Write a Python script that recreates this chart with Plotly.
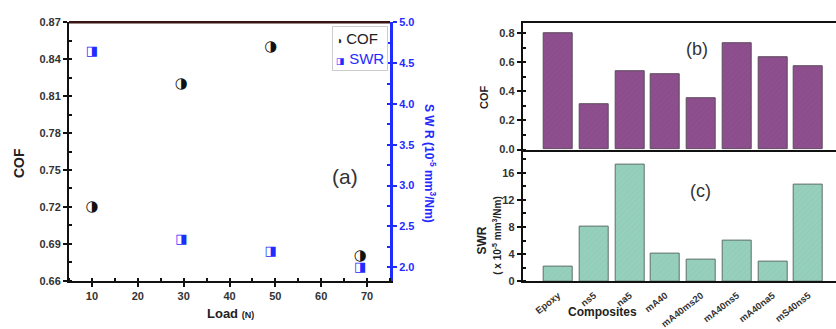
import plotly.graph_objects as go

# ---------------- data ----------------
load_cof = [10, 29.5, 49, 68.5]
cof_vals = [0.72, 0.82, 0.85, 0.68]
load_swr = [10, 29.5, 49, 68.5]
swr_vals = [4.64, 2.34, 2.19, 2.0]

composites = ["Epoxy", "ns5", "na5", "mA40", "mA40ms20", "mA40ns5", "mA40na5", "mS40ns5"]
cof_bars = [0.80, 0.31, 0.54, 0.52, 0.355, 0.73, 0.633, 0.572]
swr_bars = [2.25, 8.1, 17.2, 4.05, 3.15, 6.05, 2.97, 14.3]

x_ticks_a = [10, 20, 30, 40, 50, 60, 70]
y_ticks_a = [0.66, 0.69, 0.72, 0.75, 0.78, 0.81, 0.84, 0.87]
y2_ticks_a = [2.0, 2.5, 3.0, 3.5, 4.0, 4.5, 5.0]
y_ticks_b = [0.0, 0.2, 0.4, 0.6, 0.8]
y_ticks_c = [0, 4, 8, 12, 16]

# ---------------- styles ----------------
W, H = 836, 329
FONT = "Liberation Sans, Arial, sans-serif"
tickfont = dict(family=FONT, size=11, color="#333", weight="bold")
BLUE = "#1f2bff"


def px(x):
    return x / W


def py(y):
    return 1 - y / H


def note(text, x, y, size, color="#222", angle=0, **kw):
    return dict(text=text, x=px(x), y=py(y), xref="paper", yref="paper",
                xanchor="center", yanchor="middle", textangle=angle, showarrow=False,
                font=dict(family=FONT, size=size, color=color), **kw)


fig = go.Figure()

# ---- panel (a) ----
fig.add_trace(go.Scatter(
    x=load_cof, y=cof_vals, mode="text", text=["◑"] * len(cof_vals),
    textfont=dict(family="DejaVu Sans", size=15, color="#111"),
    showlegend=False, xaxis="x", yaxis="y", hoverinfo="x+y"))
fig.add_trace(go.Scatter(
    x=load_swr, y=swr_vals, mode="text", text=["◨"] * len(swr_vals),
    textfont=dict(family="DejaVu Sans", size=13, color=BLUE),
    showlegend=False, xaxis="x", yaxis="y2", hoverinfo="x+y"))

# ---- panel (b) ----
fig.add_trace(go.Bar(
    x=composites, y=cof_bars, width=0.81, showlegend=False,
    marker=dict(color="#8e4f8e", line=dict(color="#5a4a5a", width=1),
                pattern=dict(shape="/", fgcolor="#7a3f7a", size=4, solidity=0.15)),
    xaxis="x2", yaxis="y3"))

# ---- panel (c) ----
fig.add_trace(go.Bar(
    x=composites, y=swr_bars, width=0.81, showlegend=False,
    marker=dict(color="#96d0bd", line=dict(color="#5f6f68", width=1),
                pattern=dict(shape="/", fgcolor="#7fbca8", size=4, solidity=0.15)),
    xaxis="x3", yaxis="y4"))

axis_common = dict(showline=True, linecolor="#111", linewidth=2, showgrid=False,
                   zeroline=False, tickfont=tickfont, ticks="outside",
                   ticklen=4, tickwidth=1.5, tickcolor="#111")

legend_text = ("<span style='font-size:10px'>◑</span> COF<br>"
               "<span style='color:%s'><span style='font-size:9px'>◨</span> SWR</span>" % BLUE)

layout = dict(
    width=W, height=H, margin=dict(l=0, r=0, t=0, b=0),
    paper_bgcolor="white", plot_bgcolor="white",
    bargap=0, showlegend=False,
    xaxis=dict(domain=[px(69), px(390)], range=[5, 75], tickvals=x_ticks_a,
               minor=dict(ticks="inside", dtick=5, tick0=5, ticklen=3, tickcolor="#111"),
               anchor="y", **axis_common),
    yaxis=dict(domain=[py(287), py(17)], range=[0.66, 0.87], tickvals=y_ticks_a,
               tickformat=".2f",
               minor=dict(ticks="inside", dtick=0.015, tick0=0.66, ticklen=3, tickcolor="#111"),
               anchor="x", **axis_common),
    yaxis2=dict(overlaying="y", side="right", anchor="x", range=[1.835, 5.0],
                tickvals=y2_ticks_a, tickformat=".1f", showline=True, linecolor=BLUE,
                linewidth=3, showgrid=False, zeroline=False,
                tickfont=dict(family=FONT, size=11, color=BLUE, weight="bold"),
                ticks="outside", ticklen=4, tickwidth=1.5, tickcolor=BLUE,
                minor=dict(ticks="inside", dtick=0.25, tick0=2.0, ticklen=3, tickcolor=BLUE)),
    xaxis2=dict(domain=[px(522.7), 1.0], range=[-0.995, 7.77], anchor="y3",
                showticklabels=False, showline=True, linecolor="#111", linewidth=2,
                mirror=True, showgrid=False, zeroline=False, ticks=""),
    yaxis3=dict(domain=[py(150), py(18)], range=[0, 0.868], tickvals=y_ticks_b,
                tickformat=".1f", anchor="x2",
                minor=dict(ticks="inside", dtick=0.1, tick0=0, ticklen=3, tickcolor="#111"),
                **axis_common),
    xaxis3=dict(domain=[px(522.7), 1.0], range=[-0.995, 7.77], anchor="y4",
                showline=True, linecolor="#111", linewidth=2, showgrid=False,
                zeroline=False, ticks="", tickangle=-38, ticklabelstandoff=3,
                tickfont=dict(family=FONT, size=9.5, color="#333", weight="bold")),
    yaxis4=dict(domain=[py(287.7), py(150)], range=[0, 19.4], tickvals=y_ticks_c,
                anchor="x3",
                minor=dict(ticks="inside", dtick=2, tick0=0, ticklen=3, tickcolor="#111"),
                **axis_common),
    shapes=[dict(type="line", xref="paper", yref="paper", x0=px(69), x1=px(390),
                 y0=py(17), y1=py(17), line=dict(color="#3a1414", width=2.5))],
    annotations=[
        note("<b>COF</b>", 19, 164, 14, angle=-90),
        note("<b>Load</b> <b><span style='font-size:9px'>(N)</span></b>", 230, 321, 13),
        note("<b>S W R (10<sup>-5</sup> mm<sup>3</sup>/Nm)</b>", 430, 165, 12, color=BLUE, angle=90),
        note("(a)", 345, 178, 21, color="#333"),
        dict(text=legend_text, x=px(332), y=py(21), xref="paper", yref="paper",
             xanchor="left", yanchor="top", align="left", showarrow=False,
             bordercolor="#cccccc", borderwidth=1, borderpad=3, bgcolor="white",
             font=dict(family=FONT, size=15, color="#222")),
        note("<b>COF</b>", 484, 95, 11, angle=-90),
        note("<b>SWR</b>", 482, 245, 12, angle=-90),
        note("<b>( x 10<sup>-5</sup> mm<sup>3</sup>/Nm)</b>", 497, 240, 10, angle=-90),
        note("(b)", 697, 45, 18, color="#333"),
        note("(c)", 700, 193, 18, color="#333"),
        note("<b>Composites</b>", 602, 320, 12),
    ],
)
fig.update_layout(**layout)
fig.write_html("out.html")
